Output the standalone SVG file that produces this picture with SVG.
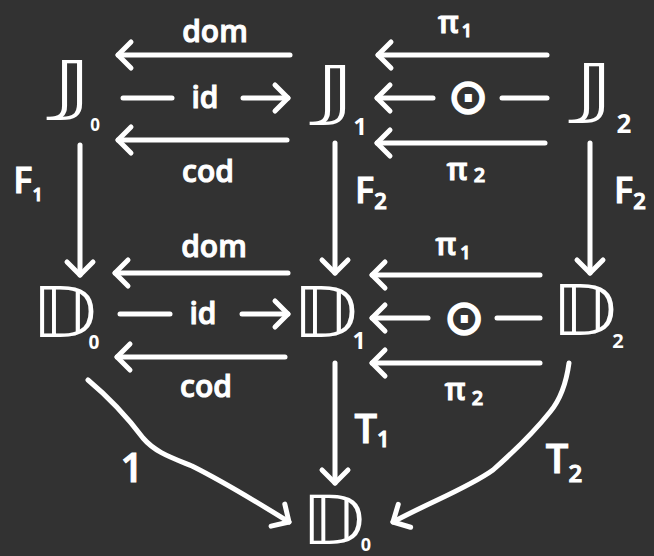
<svg xmlns="http://www.w3.org/2000/svg" width="654" height="556" viewBox="0 0 654 556">
<defs>
<style>
.bg{fill:#323232}
.e{fill:none;stroke:#fff;stroke-width:5;stroke-linecap:round;stroke-linejoin:round}
.ar{marker-end:url(#ah)}
.obj{fill:#fff;font-family:"DejaVu Sans",sans-serif;text-anchor:middle}
.sub{fill:#fff;font-family:"Open Sans",sans-serif;font-weight:700;text-anchor:middle}
.lbl{fill:#fff;stroke:#fff;stroke-width:1;font-family:"Open Sans",sans-serif;font-weight:600;text-anchor:middle}
</style>
<marker id="ah" markerUnits="userSpaceOnUse" viewBox="-20 -20 40 40" markerWidth="40" markerHeight="40" refX="0" refY="0" orient="auto" overflow="visible">
<path d="M-13,-13 L0,0 L-13,13" fill="none" stroke="#fff" stroke-width="5" stroke-linecap="round" stroke-linejoin="round"/>
</marker>
</defs>
<rect class="bg" x="0" y="0" width="654" height="556"/>

<g id="J0"><text class="obj" transform="translate(72,107) scale(1.6,1)" font-size="64">𝕁</text><text class="sub" x="95" y="131" font-size="17">0</text></g>
<g id="J1"><text class="obj" transform="translate(335,112) scale(1.6,1)" font-size="64">𝕁</text><text class="sub" x="360" y="135" font-size="24">1</text></g>
<g id="J2"><text class="obj" transform="translate(594,110) scale(1.6,1)" font-size="64">𝕁</text><text class="sub" x="624" y="133" font-size="26">2</text></g>
<g id="D0"><text class="obj" transform="translate(64,337) scale(1.15,1)" font-size="70">𝔻</text><text class="sub" x="94" y="349" font-size="19">0</text></g>
<g id="D1"><text class="obj" transform="translate(325,337) scale(1.15,1)" font-size="70">𝔻</text><text class="sub" x="359" y="349" font-size="23">1</text></g>
<g id="D2"><text class="obj" transform="translate(584,335) scale(1.15,1)" font-size="70">𝔻</text><text class="sub" x="618" y="348" font-size="20">2</text></g>
<g id="D0b"><text class="obj" transform="translate(333,544) scale(1.15,1)" font-size="68">𝔻</text><text class="sub" x="366" y="551" font-size="18">0</text></g>

<g id="connectors">
<path class="e ar" d="M290,55 H118"/>
<path class="e" d="M123,98 H172"/>
<path class="e ar" d="M243,98 H288"/>
<path class="e ar" d="M287,140 H118"/>
<path class="e ar" d="M547,55 H378"/>
<path class="e ar" d="M433,98 H377"/>
<path class="e" d="M502,98 H547"/>
<path class="e ar" d="M545,143 H377"/>
<path class="e ar" d="M80,145 V275"/>
<path class="e ar" d="M335,143 V273"/>
<path class="e ar" d="M590,143 V273"/>
<path class="e ar" d="M288,273 H115"/>
<path class="e" d="M120,314 H170"/>
<path class="e ar" d="M242,314 H288"/>
<path class="e ar" d="M285,357 H117"/>
<path class="e ar" d="M540,275 H372"/>
<path class="e ar" d="M428,318 H372"/>
<path class="e" d="M497,318 H540"/>
<path class="e ar" d="M540,363 H372"/>
<path class="e ar" d="M335,363 V483"/>
<path class="e ar" d="M88,380 C112,400 128,418 143,438 C155,452 170,457 192,466 C228,484 260,504 289,522"/>
<path class="e ar" d="M569,363 C566,385 560,400 550,412 C530,437 510,455 493,470 C468,488 430,502 393,522"/>

<text class="lbl" x="215" y="42" font-size="30">dom</text>
<text class="lbl" x="205" y="108" font-size="30">id</text>
<text class="lbl" x="208" y="182" font-size="30">cod</text>
<text class="lbl" x="455" y="33" font-size="30">π<tspan font-size="18" dx="3" dy="4">1</tspan></text>
<text class="lbl" x="466" y="180" font-size="30">π<tspan font-size="20" dx="6" dy="2">2</tspan></text>
<text class="obj" x="468" y="113" font-size="48" stroke="#fff" stroke-width="2">⊙</text>
<text class="lbl" x="28" y="193" font-size="36">F<tspan font-size="18" dy="8">1</tspan></text>
<text class="lbl" x="371" y="203" font-size="36">F<tspan font-size="22" dy="6">2</tspan></text>
<text class="lbl" x="630" y="203" font-size="36">F<tspan font-size="22" dy="6">2</tspan></text>
<text class="lbl" x="214" y="257" font-size="30">dom</text>
<text class="lbl" x="203" y="324" font-size="30">id</text>
<text class="lbl" x="206" y="397" font-size="30">cod</text>
<text class="lbl" x="453" y="255" font-size="30">π<tspan font-size="18" dx="4" dy="4">1</tspan></text>
<text class="lbl" x="464" y="400" font-size="30">π<tspan font-size="20" dx="6" dy="5">2</tspan></text>
<text class="obj" x="464" y="334" font-size="48" stroke="#fff" stroke-width="2">⊙</text>
<text class="lbl" x="372" y="443" font-size="40">T<tspan font-size="22" dy="4">1</tspan></text>
<text class="lbl" x="564" y="473" font-size="40">T<tspan font-size="24" dy="9">2</tspan></text>
<text class="lbl" x="132" y="482" font-size="40">1</text>
</g>
</svg>
